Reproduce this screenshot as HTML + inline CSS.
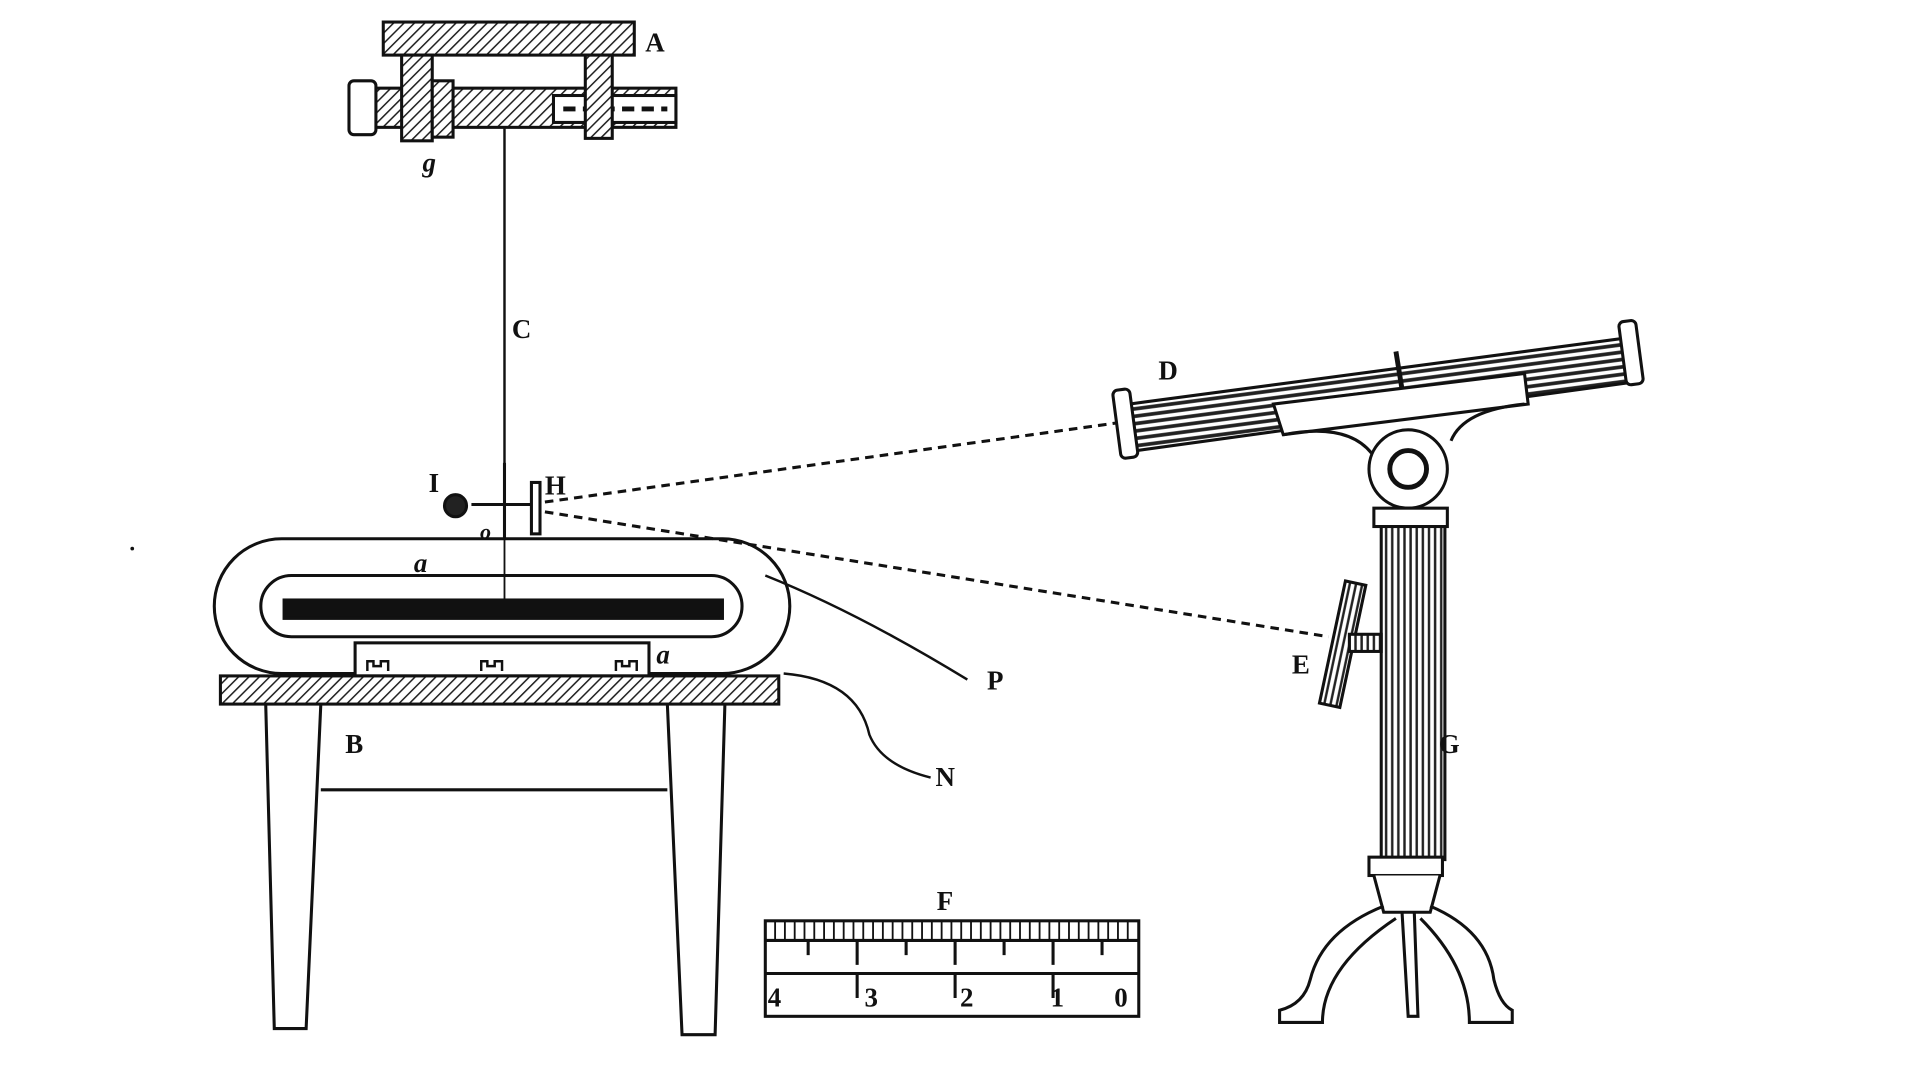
<!DOCTYPE html>
<html><head><meta charset="utf-8"><style>
html,body{margin:0;padding:0;background:#fff;width:1920px;height:1080px;overflow:hidden}
svg{display:block}
text{font-family:"Liberation Serif",serif;font-weight:bold;fill:#111}
</style></head><body>
<svg width="1920" height="1080" viewBox="0 0 1568 882" preserveAspectRatio="none" xmlns="http://www.w3.org/2000/svg">
<defs>
<pattern id="h" width="6" height="6" patternUnits="userSpaceOnUse" patternTransform="rotate(45)">
<rect width="6" height="6" fill="#fff"/><line x1="0" y1="0" x2="0" y2="6" stroke="#222" stroke-width="2.5"/></pattern>
<pattern id="v" width="5" height="5" patternUnits="userSpaceOnUse">
<rect width="5" height="5" fill="#fff"/><line x1="2" y1="0" x2="2" y2="5" stroke="#222" stroke-width="2"/></pattern>
<pattern id="t" width="6" height="6" patternUnits="userSpaceOnUse" patternTransform="rotate(-7.5)">
<rect width="6" height="6" fill="#fff"/><line x1="0" y1="2" x2="6" y2="2" stroke="#222" stroke-width="3"/></pattern>
</defs>
<g stroke="#111" stroke-width="2.5" fill="none">
<rect x="313" y="18" width="205" height="27" fill="url(#h)"/>
<rect x="300" y="72" width="252" height="32" fill="url(#h)"/>
<rect x="452" y="78" width="100" height="22" fill="#fff"/>
<line x1="460" y1="89" x2="545" y2="89" stroke-dasharray="10 6" stroke-width="4"/>
<rect x="285" y="66" width="22" height="44" rx="4" fill="#fff"/>
<rect x="328" y="45" width="25" height="70" fill="url(#h)"/>
<rect x="353" y="66" width="17" height="46" fill="url(#h)"/>
<rect x="478" y="45" width="22" height="68" fill="url(#h)"/>
<line x1="412" y1="105" x2="412" y2="405" stroke-width="2"/>
<line x1="412" y1="378" x2="412" y2="440"/>
<line x1="385" y1="412" x2="438" y2="412"/>
<rect x="434" y="394" width="7" height="42" fill="#fff"/>
<circle cx="372" cy="413" r="9" fill="#222"/>
<rect x="175" y="440" width="470" height="110" rx="55" fill="#fff"/>
<rect x="213" y="470" width="393" height="50" rx="25"/>
<rect x="232" y="490" width="358" height="15" fill="#111"/>
<line x1="412" y1="440" x2="412" y2="490" stroke-width="1.5"/>
<rect x="290" y="525" width="240" height="27" fill="#fff"/>
<path d="M300 548v-8h5v4h6v-4h6v8M393 548v-8h5v4h6v-4h6v8M503 548v-8h5v4h6v-4h6v8" stroke-width="2"/>
<rect x="180" y="552" width="456" height="23" fill="url(#h)"/>
<path d="M217 575 L224 840 L250 840 L262 575"/>
<path d="M545 575 L557 845 L584 845 L592 575"/>
<line x1="262" y1="645" x2="545" y2="645"/>
<path d="M625 470 Q700 500 790 555" stroke-width="2"/>
<path d="M640 550 Q700 555 710 600 Q720 625 760 635" stroke-width="2"/>
<line x1="445" y1="410" x2="915" y2="345" stroke-dasharray="7 5"/>
<line x1="445" y1="418" x2="1085" y2="520" stroke-dasharray="7 5"/>
<polygon points="922,330 1328,276 1334,312 928,368" fill="url(#t)"/>
<rect x="912" y="318" width="14" height="56" rx="4" fill="#fff" transform="rotate(-7.5 919 346)"/>
<rect x="1325" y="262" width="14" height="52" rx="4" fill="#fff" transform="rotate(-7.5 1332 288)"/>
<line x1="1140" y1="287" x2="1145" y2="318" stroke-width="4"/>
<polygon points="1040,330 1245,305 1248,330 1048,355" fill="#fff"/>
<path d="M1048 355 Q1100 345 1120 370 M1245 330 Q1195 335 1185 360"/>
<circle cx="1150" cy="383" r="32" fill="#fff"/>
<circle cx="1150" cy="383" r="15" stroke-width="4"/>
<rect x="1122" y="415" width="60" height="15" fill="#fff"/>
<rect x="1128" y="430" width="52" height="272" fill="url(#v)"/>
<rect x="1118" y="700" width="60" height="15" fill="#fff"/>
<path d="M1122 715 L1130 745 L1168 745 L1176 715" fill="#fff"/>
<path d="M1130 740 Q1080 760 1070 800 Q1065 820 1045 825 L1045 835 L1080 835 Q1080 790 1140 750"/>
<path d="M1168 740 Q1215 760 1220 800 Q1225 820 1235 825 L1235 835 L1200 835 Q1200 790 1160 750"/>
<path d="M1145 745 L1150 830 L1158 830 L1155 745"/>
<rect x="1088" y="475" width="17" height="102" fill="url(#v)" transform="rotate(12 1096 526)"/>
<rect x="1102" y="518" width="26" height="14" fill="url(#v)"/>
<rect x="625" y="752" width="305" height="78" fill="#fff"/>
<line x1="625" y1="768" x2="930" y2="768"/>
<line x1="625" y1="795" x2="930" y2="795"/>
<path stroke-width="1.5" d="M633 752v16M641 752v16M649 752v16M657 752v16M665 752v16M673 752v16M681 752v16M689 752v16M697 752v16M705 752v16M713 752v16M721 752v16M729 752v16M737 752v16M745 752v16M753 752v16M761 752v16M769 752v16M777 752v16M785 752v16M793 752v16M801 752v16M809 752v16M817 752v16M825 752v16M833 752v16M841 752v16M849 752v16M857 752v16M865 752v16M873 752v16M881 752v16M889 752v16M897 752v16M905 752v16M913 752v16M921 752v16"/>
<path d="M660 768v12M700 768v20M740 768v12M780 768v20M820 768v12M860 768v20M900 768v12M700 795v20M780 795v20M860 795v20"/>
</g>
<circle cx="108" cy="448" r="1.5" fill="#111"/>
<g font-size="22">
<text x="527" y="42">A</text>
<text x="418" y="276">C</text>
<text x="350" y="402">I</text>
<text x="445" y="404">H</text>
<text x="282" y="615">B</text>
<text x="806" y="563">P</text>
<text x="764" y="642">N</text>
<text x="946" y="310">D</text>
<text x="1055" y="550">E</text>
<text x="1175" y="615">G</text>
<text x="765" y="743">F</text>
<text x="627" y="822">4</text>
<text x="706" y="822">3</text>
<text x="784" y="822">2</text>
<text x="858" y="822">1</text>
<text x="910" y="822">0</text>
</g>
<g font-size="22" font-style="italic">
<text x="345" y="140">g</text>
<text x="392" y="440" font-size="18">o</text>
<text x="338" y="467">a</text>
<text x="536" y="542">a</text>
</g>
</svg>
</body></html>
